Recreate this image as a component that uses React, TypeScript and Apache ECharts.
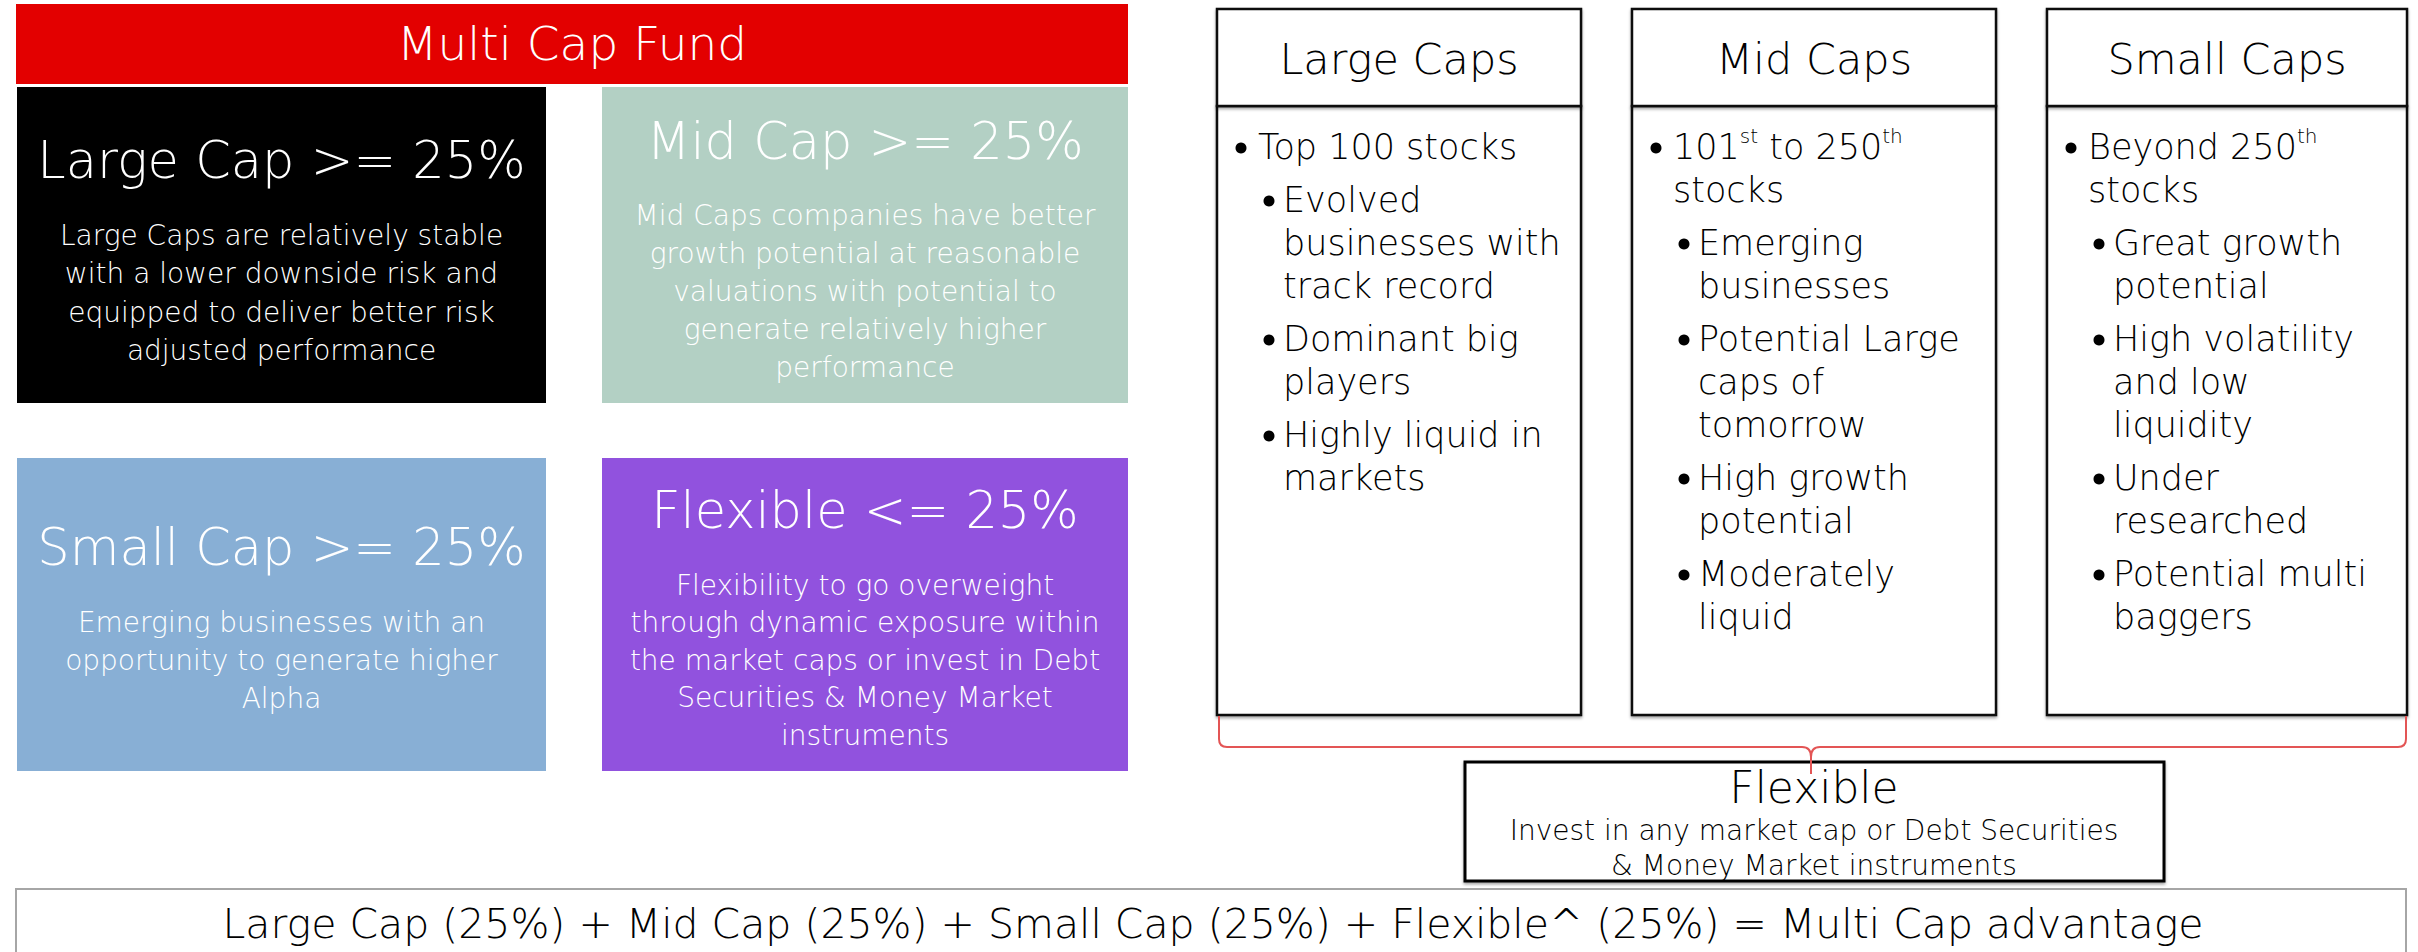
import React, { useEffect, useRef } from "react";
import * as echarts from "echarts";

// ---------- data ----------
const fundTitle = "Multi Cap Fund";
const allocTitles = ["Large Cap >= 25%", "Mid Cap >= 25%", "Small Cap >= 25%", "Flexible <= 25%"];
const largeAllocLines = [
  "Large Caps are relatively stable",
  "with a lower downside risk and",
  "equipped to deliver better risk",
  "adjusted performance",
];
const midAllocLines = [
  "Mid Caps companies have better",
  "growth potential at reasonable",
  "valuations with potential to",
  "generate relatively higher",
  "performance",
];
const smallAllocLines = [
  "Emerging businesses with an",
  "opportunity to generate higher",
  "Alpha",
];
const flexAllocLines = [
  "Flexibility to go overweight",
  "through dynamic exposure within",
  "the market caps or invest in Debt",
  "Securities & Money Market",
  "instruments",
];
const capTitles = ["Large Caps", "Mid Caps", "Small Caps"];
const largeCapPoints = [
  { level: 1, lines: ["Top 100 stocks"] },
  { level: 2, lines: ["Evolved", "businesses with", "track record"] },
  { level: 2, lines: ["Dominant big", "players"] },
  { level: 2, lines: ["Highly liquid in", "markets"] },
];
const midCapPoints = [
  { level: 1, lines: ["101{s|st} to 250{s|th}", "stocks"] },
  { level: 2, lines: ["Emerging", "businesses"] },
  { level: 2, lines: ["Potential Large", "caps of", "tomorrow"] },
  { level: 2, lines: ["High growth", "potential"] },
  { level: 2, lines: ["Moderately", "liquid"] },
];
const smallCapPoints = [
  { level: 1, lines: ["Beyond 250{s|th}", "stocks"] },
  { level: 2, lines: ["Great growth", "potential"] },
  { level: 2, lines: ["High volatility", "and low", "liquidity"] },
  { level: 2, lines: ["Under", "researched"] },
  { level: 2, lines: ["Potential multi", "baggers"] },
];
const flexTitle = "Flexible";
const flexLines = ["Invest in any market cap or Debt Securities", "& Money Market instruments"];
const summaryText =
  "Large Cap (25%) + Mid Cap (25%) + Small Cap (25%) + Flexible^ (25%) = Multi Cap advantage";

// ---------- layout / style ----------
const FONT = "'DejaVu Sans', 'Open Sans', sans-serif";
const W = 200;

const allocBoxes = [
  { x: 17, y: 87, w: 529, h: 316, fill: "#000000", titleY: 160, bodyY: 235, step: 38.5, lines: largeAllocLines },
  { x: 602, y: 87, w: 526, h: 316, fill: "#B3D0C4", titleY: 141, bodyY: 215, step: 38, lines: midAllocLines },
  { x: 17, y: 458, w: 529, h: 313, fill: "#88AFD5", titleY: 547, bodyY: 622, step: 38, lines: smallAllocLines },
  { x: 602, y: 458, w: 526, h: 313, fill: "#9152DE", titleY: 510, bodyY: 585, step: 37.5, lines: flexAllocLines },
];

const capBoxes = [
  { x: 1217, w: 364, points: largeCapPoints },
  { x: 1632, w: 364, points: midCapPoints },
  { x: 2047, w: 360, points: smallCapPoints },
];

function txt(text: string, x: number, y: number, size: number, fill: string, align = "center", rich?: any) {
  const style: any = {
    text,
    x,
    y,
    fill,
    fontSize: size,
    fontFamily: FONT,
    fontWeight: W,
    align,
    verticalAlign: "middle",
    textAlign: align,
    textVerticalAlign: "middle",
  };
  if (rich) {
    style.rich = rich;
    style.lineHeight = size + 8;
  }
  return { type: "text", silent: true, style };
}

function buildGraphics() {
  const els: any[] = [];

  // header
  els.push({ type: "rect", shape: { x: 16, y: 4, width: 1112, height: 80 }, style: { fill: "#E30000" } });
  els.push(txt(fundTitle, 572, 43, 47, "#FFFFFF"));

  // allocation boxes
  allocBoxes.forEach((b, i) => {
    els.push({ type: "rect", shape: { x: b.x, y: b.y, width: b.w, height: b.h }, style: { fill: b.fill } });
    const cx = b.x + b.w / 2;
    els.push(txt(allocTitles[i], cx, b.titleY, 51, "#FFFFFF"));
    b.lines.forEach((l, j) => {
      els.push(txt(l, cx, b.bodyY + j * b.step, 28, "#FFFFFF"));
    });
  });

  // cap columns
  const boxStyle = {
    fill: "#FFFFFF",
    stroke: "#111111",
    lineWidth: 2.5,
    shadowColor: "rgba(0,0,0,0.35)",
    shadowBlur: 3,
    shadowOffsetY: 2,
  };
  const rich = {
    s: { fontSize: 20, fontFamily: FONT, fontWeight: W, fill: "#000", color: "#000", lineHeight: 24, verticalAlign: "top" },
  };
  capBoxes.forEach((b, i) => {
    els.push({ type: "rect", shape: { x: b.x, y: 106, width: b.w, height: 609 }, style: boxStyle });
    els.push({ type: "rect", shape: { x: b.x, y: 9, width: b.w, height: 97 }, style: boxStyle });
    els.push(txt(capTitles[i], b.x + b.w / 2, 59, 43, "#000000"));
    let y = 147;
    b.points.forEach((p, pi) => {
      if (pi > 0) y += 10;
      const dotX = b.x + (p.level === 1 ? 24 : 52);
      const textX = b.x + (p.level === 1 ? 41 : 66);
      els.push({ type: "circle", shape: { cx: dotX, cy: y + 1, r: 5.5 }, style: { fill: "#000000" } });
      p.lines.forEach((l) => {
        const hasRich = l.indexOf("{") >= 0;
        els.push(txt(l, textX, y, 35, "#000000", "left", hasRich ? rich : undefined));
        y += 43;
      });
    });
  });

  // flexible box
  els.push({
    type: "rect",
    shape: { x: 1465, y: 762, width: 699, height: 119 },
    style: { fill: "#FFFFFF", stroke: "#000000", lineWidth: 3, shadowColor: "rgba(0,0,0,0.35)", shadowBlur: 3, shadowOffsetY: 2 },
  });
  els.push(txt(flexTitle, 1814, 787, 44, "#000000"));
  flexLines.forEach((l, j) => els.push(txt(l, 1814, 830 + j * 35, 28, "#000000")));

  // brace
  els.push({
    type: "brace",
    x: 0,
    y: 0,
    scaleX: 1,
    scaleY: 1,
    style: { fill: "none", stroke: "#E35555", lineWidth: 2 },
  });

  // summary
  els.push({
    type: "rect",
    shape: { x: 16, y: 889, width: 2390, height: 90 },
    style: { fill: "#FFFFFF", stroke: "#A6A6A6", lineWidth: 2 },
  });
  els.push(txt(summaryText, 1213, 924, 41, "#000000"));
  return els;
}

let registered = false;
function registerBrace() {
  if (registered) return;
  registered = true;
  const d =
    "M1219,716 L1219,739 Q1219,747 1227,747 L1802,747 Q1811,747 1811,757 L1811,774 " +
    "M1811,757 Q1811,747 1820,747 L2398,747 Q2406,747 2406,739 L2406,716";
  echarts.graphic.registerShape("brace", (echarts.graphic as any).extendPath(d, {}));
}

export default function App() {
  const ref = useRef<HTMLDivElement>(null);
  useEffect(() => {
    if (!ref.current) return;
    registerBrace();
    const chart = echarts.init(ref.current, undefined, { renderer: "svg" });
    chart.setOption({
      animation: false,
      backgroundColor: "#FFFFFF",
      graphic: { elements: buildGraphics() },
    });
    return () => chart.dispose();
  }, []);
  return (
    <div
      ref={ref}
      style={{ position: "fixed", left: 0, top: 0, width: 2418, height: 952, background: "#fff" }}
    />
  );
}
